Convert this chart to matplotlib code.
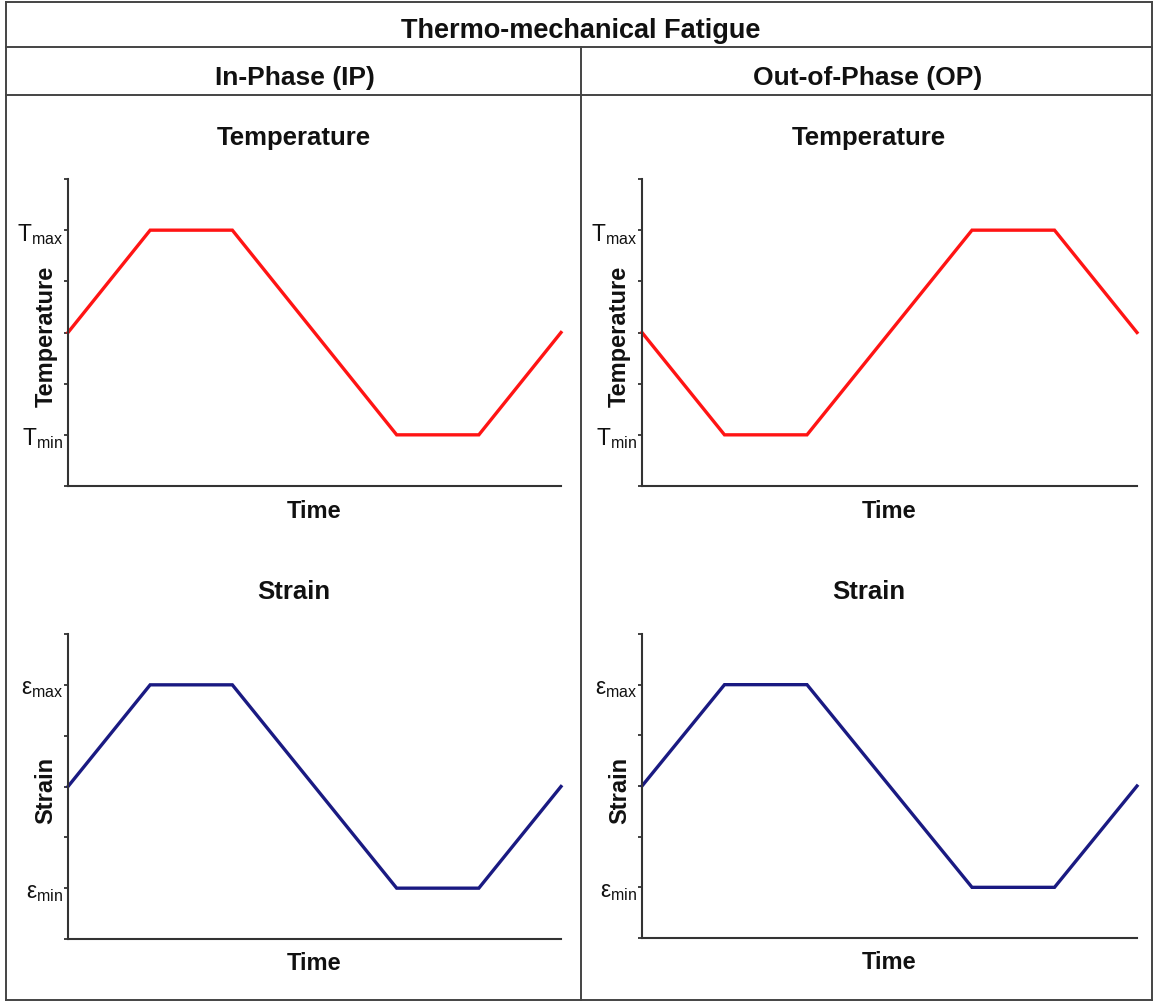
import matplotlib
matplotlib.use("Agg")
import matplotlib.pyplot as plt
from matplotlib.lines import Line2D

plt.rcParams["font.family"] = ["Liberation Sans", "DejaVu Sans"]
plt.rcParams["mathtext.fontset"] = "custom"
plt.rcParams["mathtext.rm"] = "Liberation Sans"
plt.rcParams["mathtext.it"] = "Liberation Sans"

# Cycle shape: time points and normalised levels
time = [0, 2, 4, 8, 10, 12]
temp_ip = [0, 2, 2, -2, -2, 0]
temp_op = [0, -2, -2, 2, 2, 0]
strain_ip = [0, 2, 2, -2, -2, 0]
strain_op = [0, 2, 2, -2, -2, 0]

y_ticks = [-3, -2, -1, 0, 1, 2, 3]
temp_labels = ["", r"$\mathregular{T_{min}}$", "", "", "", r"$\mathregular{T_{max}}$", ""]
strain_labels = ["", r"$\mathregular{ε_{min}}$", "", "", "", r"$\mathregular{ε_{max}}$", ""]

W, H = 1155, 1003
fig = plt.figure(figsize=(W / 100, H / 100), dpi=100)
fig.patch.set_facecolor("white")


def fx(px):
    return px / W


def fy(py):
    return 1 - py / H


def make_axes(x0, x1, y0, y1):
    return fig.add_axes([fx(x0), fy(y1), fx(x1) - fx(x0), fy(y0) - fy(y1)])


TEXT = "#111111"
SPINE = "#333333"


def style(ax, t, y, color, labels, ylabel):
    ax.plot(t, y, color=color, lw=2.4, clip_on=False, solid_joinstyle="miter")
    ax.set_xlim(0, 12)
    ax.set_ylim(-3, 3)
    for s in ("top", "right"):
        ax.spines[s].set_visible(False)
    for s in ("left", "bottom"):
        ax.spines[s].set_color(SPINE)
        ax.spines[s].set_linewidth(1.5)
    ax.set_xticks([])
    ax.set_yticks(y_ticks)
    ax.set_yticklabels(labels, fontsize=16.5, color=TEXT)
    ax.tick_params(axis="y", direction="out", length=3, width=1.3, color=SPINE, pad=0.5)
    ax.set_ylabel(ylabel, fontsize=17, fontweight="bold", color=TEXT)
    ax.yaxis.set_label_coords(-0.045, 0.49)
    ax.yaxis.label.set_va("center")
    ax.set_xlabel("Time", fontsize=17, fontweight="bold", color=TEXT, labelpad=9)


ax_tl = make_axes(68, 561, 180, 487)
style(ax_tl, time, temp_ip, "#ff1414", temp_labels, "Temperature")
ax_tr = make_axes(642, 1137, 180, 487)
style(ax_tr, time, temp_op, "#ff1414", temp_labels, "Temperature")
ax_bl = make_axes(68, 561, 635, 940)
style(ax_bl, time, strain_ip, "#1a1a82", strain_labels, "Strain")
ax_br = make_axes(642, 1137, 635, 939)
style(ax_br, time, strain_op, "#1a1a82", strain_labels, "Strain")

# Table frame around the panels
LINE = "#444444"


def hline(py, x0, x1):
    fig.add_artist(Line2D([fx(x0), fx(x1)], [fy(py), fy(py)], color=LINE, lw=1.4))


def vline(px, y0, y1):
    fig.add_artist(Line2D([fx(px), fx(px)], [fy(y0), fy(y1)], color=LINE, lw=1.4))


hline(3, 6, 1152)
hline(48, 6, 1152)
hline(96, 6, 1152)
hline(1001, 6, 1152)
vline(6, 3, 1001)
vline(1152, 3, 1001)
vline(581, 48, 1001)

# Headings
fig.text(fx(581), fy(38), "Thermo-mechanical Fatigue", ha="center", va="baseline",
         fontsize=19.5, fontweight="bold", color=TEXT)
fig.text(fx(295), fy(85), "In-Phase (IP)", ha="center", va="baseline",
         fontsize=19, fontweight="bold", color=TEXT)
fig.text(fx(868), fy(85), "Out-of-Phase (OP)", ha="center", va="baseline",
         fontsize=19, fontweight="bold", color=TEXT)
for cx in (294, 869):
    fig.text(fx(cx), fy(145), "Temperature", ha="center", va="baseline",
             fontsize=18.5, fontweight="bold", color=TEXT)
    fig.text(fx(cx), fy(599), "Strain", ha="center", va="baseline",
             fontsize=18.5, fontweight="bold", color=TEXT)

fig.savefig("out.png", dpi=100, facecolor="white")
